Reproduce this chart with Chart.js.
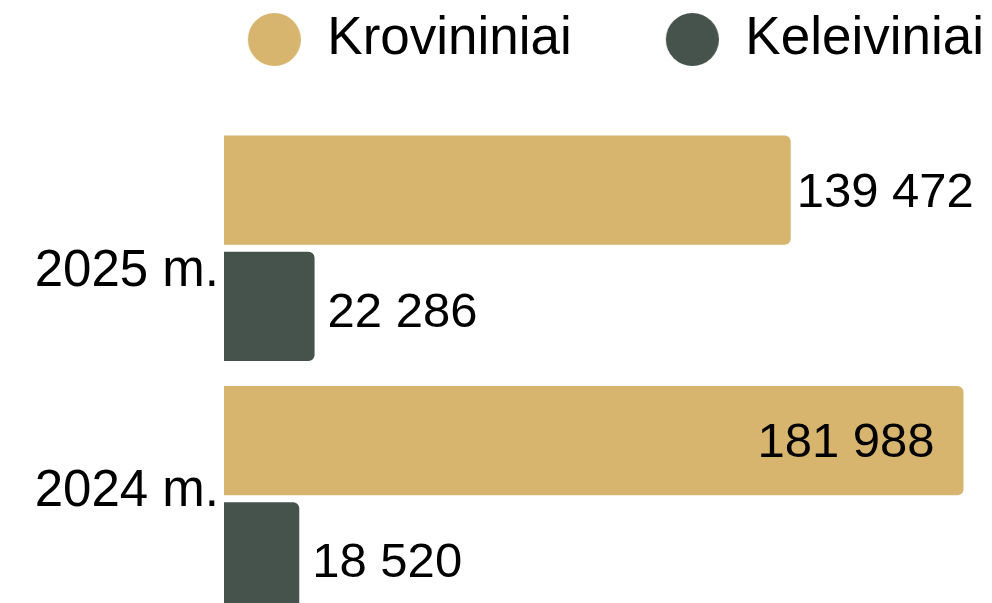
<!DOCTYPE html>
<html>
<head>
<meta charset="utf-8">
<script src="https://cdn.jsdelivr.net/npm/chart.js@4/dist/chart.umd.min.js"></script>
<style>
  html, body { margin: 0; padding: 0; background: #fff; overflow: hidden; }
  #wrap { width: 992px; height: 624px; }
</style>
</head>
<body>
<div id="wrap"><canvas id="bar-chart"></canvas></div>
<script>
// chart data
const categories = ["2025 m.", "2024 m."];
const seriesNames = ["Krovininiai", "Keleiviniai"];
const cargo = [139472, 181988];
const passengers = [22286, 18520];
const colors = ["#d8b56e", "#46534d"];

Chart.defaults.font.family = '"Liberation Sans", Arial, sans-serif';
Chart.defaults.color = "#000";

// thousands with a space: 139 472
function fmt(v) {
  return String(v).replace(/\B(?=(\d{3})+(?!\d))/g, " ");
}

// legend dots: circle sits at the right side of a wider image
const dotWidth = 139;
const dots = colors.map(function(c) {
  const cv = document.createElement("canvas");
  cv.width = dotWidth;
  cv.height = 53;
  const g = cv.getContext("2d");
  g.fillStyle = c;
  g.beginPath();
  g.arc(dotWidth - 26.5, 26.5, 26.5, 0, Math.PI * 2);
  g.fill();
  return cv;
});

// value labels at the end of each bar
const labelGap = [6, 13];
const labelDy = [3, 7];
const valueLabels = {
  id: "valueLabels",
  afterDatasetsDraw(chart) {
    const ctx = chart.ctx;
    ctx.save();
    ctx.font = '49px "Liberation Sans", Arial, sans-serif';
    ctx.fillStyle = "#000";
    ctx.textBaseline = "middle";
    chart.data.datasets.forEach(function(ds, i) {
      chart.getDatasetMeta(i).data.forEach(function(bar, j) {
        const text = fmt(ds.data[j]);
        const w = ctx.measureText(text).width;
        if (bar.x + labelGap[i] + w > chart.width - 10) {
          ctx.textAlign = "right";
          ctx.fillText(text, bar.x - 29, bar.y + labelDy[i]);
        } else {
          ctx.textAlign = "left";
          ctx.fillText(text, bar.x + labelGap[i], bar.y + labelDy[i]);
        }
      });
    });
    ctx.restore();
  }
};

new Chart(document.getElementById("bar-chart"), {
  type: "bar",
  data: {
    labels: categories,
    datasets: [
      {
        label: seriesNames[0],
        data: cargo,
        backgroundColor: colors[0],
        yAxisID: "y"
      },
      {
        label: seriesNames[1],
        data: passengers,
        backgroundColor: colors[1],
        yAxisID: "y"
      }
    ]
  },
  options: {
    indexAxis: "y",
    responsive: true,
    maintainAspectRatio: false,
    animation: false,
    layout: { padding: { top: 5 } },
    datasets: {
      bar: {
        categoryPercentage: 0.928,
        barPercentage: 0.94,
        borderRadius: 6,
        borderSkipped: "start"
      }
    },
    scales: {
      x: {
        type: "linear",
        position: "top",
        min: 0,
        max: 189000,
        grid: { display: false },
        border: { display: false },
        ticks: { display: false },
        afterFit: function(s) { s.height = 47; }
      },
      y: {
        type: "category",
        display: false
      },
      // year labels sit on their own axis
      y2: {
        axis: "y",
        type: "linear",
        position: "left",
        reverse: true,
        offset: false,
        min: -0.6742,
        max: 1.5973,
        grid: { display: false, drawTicks: false, offset: false },
        border: { display: false },
        ticks: {
          padding: 5,
          color: "#000",
          font: { size: 51 },
          callback: function(v) { return categories[v]; }
        },
        afterBuildTicks: function(s) {
          s.ticks = categories.map(function(c, i) { return { value: i }; });
        },
        afterFit: function(s) {
          s.width = 224;
          s.paddingTop = 0;
          s.paddingBottom = 0;
        }
      }
    },
    plugins: {
      legend: {
        display: true,
        position: "top",
        align: "end",
        labels: {
          color: "#000",
          font: { size: 53 },
          usePointStyle: true,
          pointStyleWidth: dotWidth,
          padding: 8,
          generateLabels: function(chart) {
            return Chart.defaults.plugins.legend.labels.generateLabels(chart).map(function(it, i) {
              it.pointStyle = dots[i];
              return it;
            });
          }
        }
      },
      tooltip: { enabled: false }
    }
  },
  plugins: [valueLabels]
});
</script>
</body>
</html>
